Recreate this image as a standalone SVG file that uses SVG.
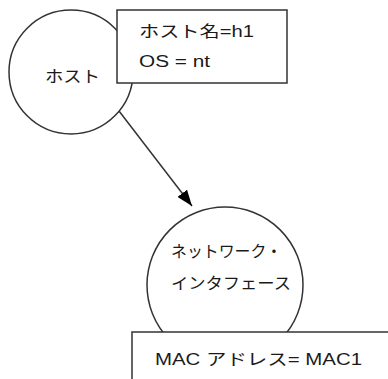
<svg xmlns="http://www.w3.org/2000/svg" width="388" height="379" viewBox="0 0 388 379">
  <style>
    .shape { fill: #ffffff; stroke: #333333; stroke-width: 1.5; }
    .label { font-family: "Liberation Sans", "Noto Sans CJK JP", sans-serif; font-size: 16px; fill: #1a1a1a; }
    .conn { stroke: #333333; stroke-width: 1.5; fill: none; }
  </style>
  <defs>
    <marker id="arrow" viewBox="0 0 16 12" refX="16" refY="6" markerWidth="16" markerHeight="12" markerUnits="userSpaceOnUse" orient="auto">
      <path d="M0,0 L16,6 L0,12 z" fill="#000000"/>
    </marker>
  </defs>
  <rect width="388" height="379" fill="#ffffff"/>
  <g id="host">
    <circle class="shape" cx="71" cy="72" r="62"/>
    <text class="label" x="45" y="82" textLength="55" lengthAdjust="spacingAndGlyphs">ホスト</text>
  </g>
  <g id="host-attrs">
    <rect class="shape" x="117" y="10" width="170" height="73"/>
    <text class="label" x="139" y="37" textLength="115" lengthAdjust="spacingAndGlyphs">ホスト名=h1</text>
    <text class="label" x="139" y="67" textLength="71" lengthAdjust="spacingAndGlyphs">OS = nt</text>
  </g>
  <g id="connectors">
    <line class="conn" x1="119" y1="111" x2="192" y2="206" marker-end="url(#arrow)"/>
  </g>
  <g id="nic">
    <circle class="shape" cx="225" cy="285" r="78"/>
    <text class="label" x="171" y="257" textLength="111" lengthAdjust="spacingAndGlyphs">ネットワーク・</text>
    <text class="label" x="171" y="289" textLength="120" lengthAdjust="spacingAndGlyphs">インタフェース</text>
  </g>
  <g id="nic-attrs">
    <rect class="shape" x="132" y="332" width="300" height="100"/>
    <text class="label" x="155" y="365" textLength="207" lengthAdjust="spacingAndGlyphs">MAC アドレス= MAC1</text>
  </g>
</svg>
